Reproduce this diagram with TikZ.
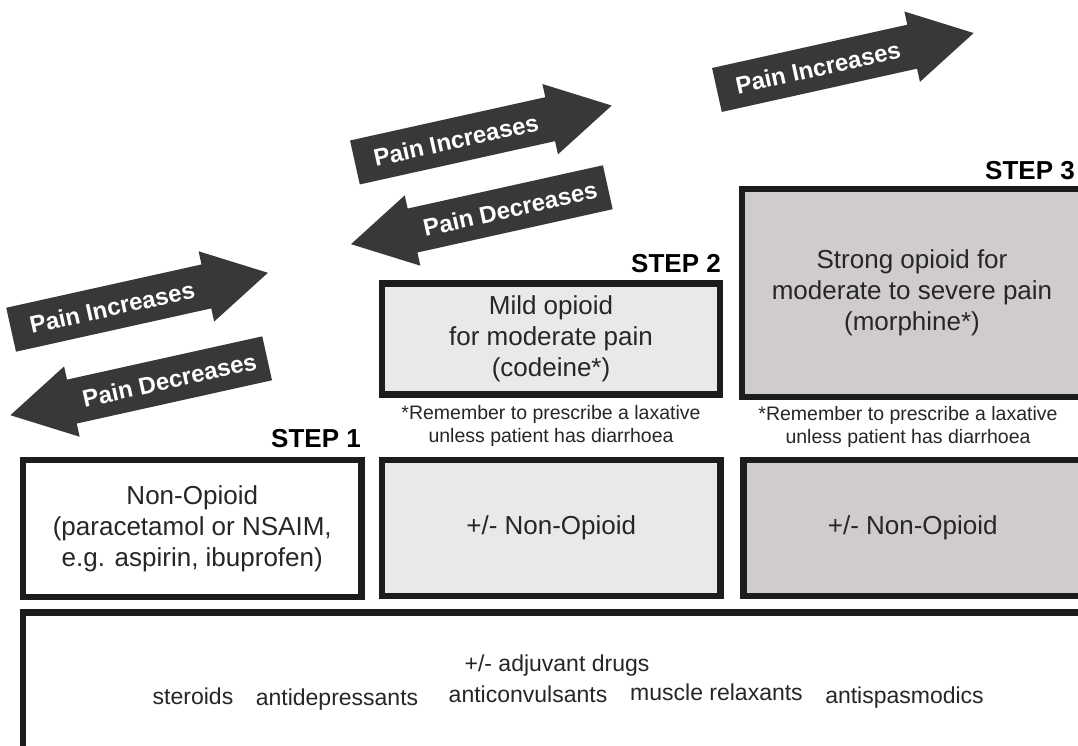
\documentclass[tikz,border=0pt]{standalone}
\usepackage{fontspec}
\setmainfont{Liberation Sans}
\definecolor{boxline}{HTML}{1C1C1C}
\definecolor{arrowgray}{HTML}{383838}
\definecolor{steplight}{HTML}{E9E9E9}
\definecolor{stepdark}{HTML}{CFCCCB}
\definecolor{txt}{HTML}{262626}
\begin{document}
\begin{tikzpicture}[x=1pt,y=-1pt,
  stepbox/.style={draw=boxline, line width=6.5pt, inner sep=0pt, align=center, text=txt,
    font=\fontsize{26}{31}\selectfont},
  steplabel/.style={font=\fontsize{26}{30}\selectfont\bfseries, anchor=base east, inner sep=0pt, text=black},
  note/.style={font=\fontsize{19.5}{23}\selectfont, align=center, inner sep=0pt, text=txt},
  adj/.style={font=\fontsize{23}{28}\selectfont, anchor=base, inner sep=0pt, text=txt},
  arrowbody/.style={fill=arrowgray},
  arrowtext/.style={text=white, font=\fontsize{24}{28}\selectfont\bfseries, inner sep=0pt}]
\useasboundingbox (0,0) rectangle (1078,745);
\fill[white] (0,0) rectangle (1078,745);
\clip (0,0) rectangle (1078,745);

% arrows
\begin{scope}[shift={(139.5,301.25)}, rotate=12.5]
  \fill[arrowbody] (-131.5,-22.5) -- (68.5,-22.5) -- (68.5,-36) -- (131.5,0) -- (68.5,36) -- (68.5,22.5) -- (-131.5,22.5) -- cycle;
  \node[arrowtext, rotate=12.5] (inc1) at (-28,0) {Pain Increases};
\end{scope}
\begin{scope}[shift={(138.75,386.75)}, rotate=12.5]
  \fill[arrowbody] (131.5,-22.5) -- (-68.5,-22.5) -- (-68.5,-36) -- (-131.5,0) -- (-68.5,36) -- (-68.5,22.5) -- (131.5,22.5) -- cycle;
  \node[arrowtext, rotate=12.5] (dec1) at (31.5,0) {Pain Decreases};
\end{scope}
\begin{scope}[shift={(483.3,134)}, rotate=12.5]
  \fill[arrowbody] (-131.5,-22.5) -- (68.5,-22.5) -- (68.5,-36) -- (131.5,0) -- (68.5,36) -- (68.5,22.5) -- (-131.5,22.5) -- cycle;
  \node[arrowtext, rotate=12.5] (inc2) at (-28,0) {Pain Increases};
\end{scope}
\begin{scope}[shift={(479.4,215.7)}, rotate=12.5]
  \fill[arrowbody] (131.5,-22.5) -- (-68.5,-22.5) -- (-68.5,-36) -- (-131.5,0) -- (-68.5,36) -- (-68.5,22.5) -- (131.5,22.5) -- cycle;
  \node[arrowtext, rotate=12.5] (dec2) at (31.5,0) {Pain Decreases};
\end{scope}
\begin{scope}[shift={(845.3,61.5)}, rotate=12.5]
  \fill[arrowbody] (-131.5,-22.5) -- (68.5,-22.5) -- (68.5,-36) -- (131.5,0) -- (68.5,36) -- (68.5,22.5) -- (-131.5,22.5) -- cycle;
  \node[arrowtext, rotate=12.5] (inc3) at (-28,0) {Pain Increases};
\end{scope}

% boxes
\node[stepbox, fill=white, minimum width=338.5pt, minimum height=137pt] (s1) at (192.25,528.5)
  {Non-Opioid\\(paracetamol or NSAIM,\\e.g. aspirin, ibuprofen)};
\node[stepbox, fill=steplight, minimum width=338.5pt, minimum height=136pt] (s2low) at (551.25,528)
  {+/- Non-Opioid};
\node[stepbox, fill=stepdark, minimum width=338.5pt, minimum height=136pt] (s3low) at (912.75,528)
  {+/- Non-Opioid};
\node[stepbox, fill=steplight, minimum width=338pt, minimum height=111pt] (s2up) at (551,339)
  {Mild opioid\\for moderate pain\\(codeine*)};
\node[stepbox, fill=stepdark, minimum width=340pt, minimum height=208pt] (s3up) at (912,293)
  {Strong opioid for\\moderate to severe pain\\(morphine*)};
\node[stepbox, fill=white, minimum width=1061pt, minimum height=147.5pt] (adjbox) at (553.5,686.25) {};

% step labels
\node[steplabel] (l1) at (361,447) {STEP 1};
\node[steplabel] (l2) at (721,272) {STEP 2};
\node[steplabel] (l3) at (1075,179) {STEP 3};

% notes
\node[note] (n2) at (551,426) {*Remember to prescribe a laxative\\unless patient has diarrhoea};
\node[note] (n3) at (908,427) {*Remember to prescribe a laxative\\unless patient has diarrhoea};

% adjuvants
\node[adj] (adjt) at (557,671) {+/- adjuvant drugs};
\node[adj] (w1) at (193,704) {steroids};
\node[adj] (w2) at (337,705.5) {antidepressants};
\node[adj] (w3) at (528,702) {anticonvulsants};
\node[adj] (w4) at (716.5,700.5) {muscle relaxants};
\node[adj] (w5) at (904.5,703.5) {antispasmodics};
\end{tikzpicture}
\end{document}
